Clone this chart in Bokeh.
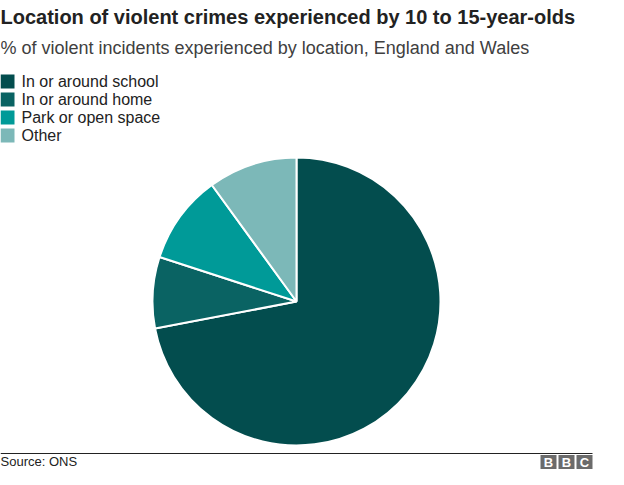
import math
from bokeh.plotting import figure
from bokeh.models import Range1d, ColumnDataSource
from bokeh.core.properties import value
from bokeh.embed import file_html
from bokeh.resources import INLINE

# ---- data ----
categories = ["In or around school", "In or around home", "Park or open space", "Other"]
shares = [72, 8, 10, 10]
colors = ["#034d4e", "#0a6363", "#009a98", "#7cb8b8"]
title = "Location of violent crimes experienced by 10 to 15-year-olds"
subtitle = "% of violent incidents experienced by location, England and Wales"
source_note = "Source: ONS"
logo_letters = ["B", "B", "C"]

W, H = 608, 469
FONT = value("Liberation Sans")


def Y(ref_y):
    # convert a screen y (from top) into figure data y
    return H - ref_y


p = figure(width=W, height=H, x_range=Range1d(0, W), y_range=Range1d(0, H),
           output_backend="svg", toolbar_location=None, min_border=0)
p.axis.visible = False
p.grid.visible = False
p.outline_line_color = None
p.background_fill_color = "white"
p.border_fill_color = "white"

# ---- pie ----
total = float(sum(shares))
starts, ends = [], []
acc = 0.0
for v in shares:
    starts.append(math.pi / 2 - 2 * math.pi * acc / total)
    acc += v
    ends.append(math.pi / 2 - 2 * math.pi * acc / total)

cx, cy, r = 296, Y(301), 144
src = ColumnDataSource(dict(start=starts, end=ends, color=colors, cat=categories))
p.wedge(x=cx, y=cy, radius=r, start_angle="start", end_angle="end", direction="clock",
        fill_color="color", line_color="white", line_width=2, source=src)

# ---- titles ----
p.text(x=[0], y=[Y(16)], text=[title], text_font=FONT, text_font_size="20px",
       text_font_style="bold", text_baseline="middle", text_color="#222222")
p.text(x=[0], y=[Y(47)], text=[subtitle], text_font=FONT, text_font_size="18px",
       text_baseline="middle", text_color="#404040")

# ---- legend ----
leg_y = [Y(81 + 18 * i) for i in range(len(categories))]
p.rect(x=[7] * len(categories), y=leg_y, width=14, height=14, fill_color=colors, line_color=None)
p.text(x=[21] * len(categories), y=leg_y, text=categories, text_font=FONT, text_font_size="16px",
       text_baseline="middle", text_color="#222222")

# ---- footer ----
p.segment(x0=[0], y0=[Y(453)], x1=[592], y1=[Y(453)], line_color="#222222", line_width=1.2)
p.text(x=[0], y=[Y(461)], text=[source_note], text_font=FONT, text_font_size="13px",
       text_baseline="middle", text_color="#222222")
logo_x = [548 + 18 * i for i in range(3)]
logo_y = [Y(461.5)] * 3
p.rect(x=logo_x, y=logo_y, width=16, height=14, fill_color="#6b6b6b", line_color=None)
p.text(x=logo_x, y=logo_y, text=logo_letters, text_font=FONT, text_font_size="13px",
       text_font_style="bold", text_align="center", text_baseline="middle", text_color="white")

open("out.html", "w").write(file_html(p, INLINE))
